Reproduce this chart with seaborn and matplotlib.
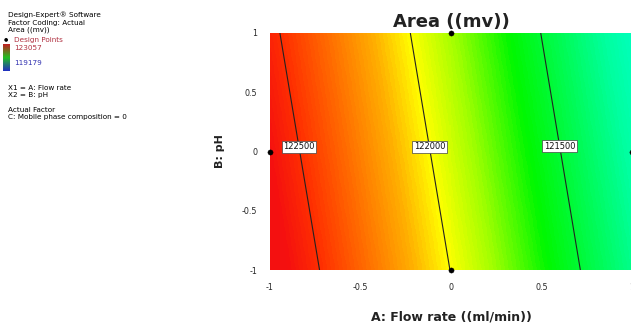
import matplotlib
matplotlib.use("Agg")
import matplotlib.pyplot as plt
import numpy as np
import pandas as pd
import seaborn as sns
from matplotlib.colors import LinearSegmentedColormap, Normalize

# Response at a 3x3 grid of coded factor levels
flow_levels = [-1.0, 0.0, 1.0]
ph_levels = [-1.0, 0.0, 1.0]
area_grid = [
    [122690, 121996, 121302],  # pH = -1
    [122614, 121920, 121226],  # pH = 0
    [122538, 121844, 121150],  # pH = 1
]
contour_levels = [121500, 122000, 122500]
area_min, area_max = 119179, 123057

# design points (coded)
design_flow = [0, 0, -1, 1]
design_ph = [1, -1, 0, 0]

# Design-Expert style blue -> green -> yellow -> red map, anchored on values
cmap_vals = [119179, 120900, 121250, 121620, 121830, 122000, 122140, 122310, 122490, 122620, 123057]
cmap_cols = ["#1c1cff", "#00ffff", "#00ffa0", "#00f800", "#a0ff00", "#ffff00",
             "#ffb000", "#ff7000", "#ff3000", "#f51010", "#f01010"]
nodes = [(v - area_min) / (area_max - area_min) for v in cmap_vals]
de_cmap = LinearSegmentedColormap.from_list("de", list(zip(nodes, cmap_cols)))

sns.set_style("white")
plt.rcParams["font.family"] = ["DejaVu Sans"]

W, H = 631, 324
fig = plt.figure(figsize=(W / 100, H / 100), dpi=100)
ax = fig.add_axes([270 / W, 54 / H, 362 / W, 237 / H])

X, Y = np.meshgrid(flow_levels, ph_levels)
Z = np.array(area_grid, dtype=float)
norm = Normalize(area_min, area_max)
# grid cells centred on the factor levels; smooth fill interpolated in data space
ax.imshow(Z, origin="lower", extent=(-1.5, 1.5, -1.5, 1.5), cmap=de_cmap, norm=norm,
          interpolation="bilinear", interpolation_stage="data", aspect="auto")
cs = ax.contour(X, Y, Z, levels=contour_levels, colors="#222222", linewidths=0.8)
labels = ax.clabel(cs, fmt="%d", fontsize=6, inline=False,
                   manual=[(0.58, 0.04), (-0.115, 0.04), (-0.84, 0.04)])
for t in labels:
    t.set_bbox(dict(facecolor="white", edgecolor="#444444", boxstyle="square,pad=0.2", linewidth=0.5))
    t.set_rotation(0)
    t.set_color("#111111")

pts = pd.DataFrame({"flow": design_flow, "ph": design_ph})
sns.scatterplot(data=pts, x="flow", y="ph", ax=ax, color="black", s=14,
                edgecolor="black", clip_on=False, zorder=5, legend=False)

ax.set_xlim(-1, 1)
ax.set_ylim(-1, 1)
ax.set_xticks([-1, -0.5, 0, 0.5, 1])
ax.set_xticklabels(["-1", "-0.5", "0", "0.5", "1"])
ax.set_yticks([-1, -0.5, 0, 0.5, 1])
ax.set_yticklabels(["-1", "-0.5", "0", "0.5", "1"])
ax.tick_params(labelsize=5.8, length=4, width=0.6, color="#cc6666", pad=5)
for s in ax.spines.values():
    s.set_visible(False)

ax.set_title("Area ((mv))", fontsize=13, fontweight="bold", pad=4, color="#222222")
ax.set_xlabel("A: Flow rate ((ml/min))", fontsize=9, fontweight="bold", labelpad=14, color="#222222")
ax.set_ylabel("B: pH", fontsize=8, fontweight="bold", labelpad=12, color="#222222")


def side_text(ypx, s, color="black", x=8):
    fig.text(x / W, 1 - ypx / H, s, fontsize=5.2, va="center", color=color)


# left info panel
side_text(15, "Design-Expert\u00ae Software")
side_text(22.5, "Factor Coding: Actual")
side_text(30, "Area ((mv))")
fig.text(4 / W, 1 - 39 / H, "\u25cf", fontsize=3.5, va="center", color="black")
side_text(40, "Design Points", color="#b03040", x=14)
cax = fig.add_axes([3 / W, 1 - 71 / H, 7 / W, 27 / H])
cax.imshow(np.linspace(1, 0, 50).reshape(-1, 1), aspect="auto",
           cmap=LinearSegmentedColormap.from_list("bar", ["#2030c0", "#20c020", "#c02020"]))
cax.set_axis_off()
side_text(47.5, "123057", color="#b03040", x=14)
side_text(63, "119179", color="#3030b0", x=14)
side_text(88, "X1 = A: Flow rate")
side_text(95.5, "X2 = B: pH")
side_text(110, "Actual Factor")
side_text(117.5, "C: Mobile phase composition = 0")

fig.savefig("out.png", dpi=100)
